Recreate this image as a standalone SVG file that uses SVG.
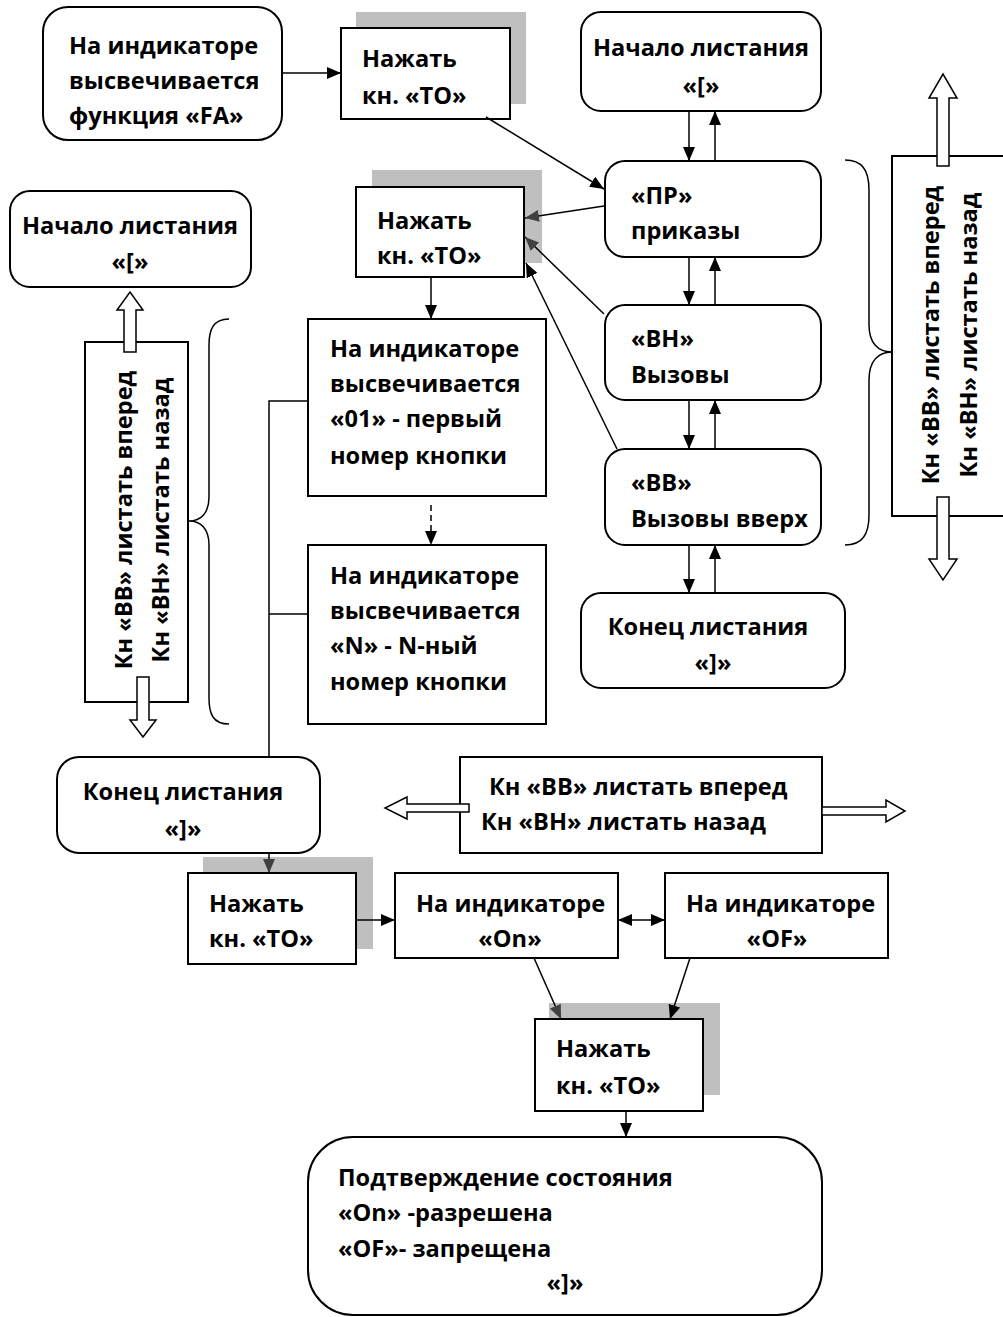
<svg xmlns="http://www.w3.org/2000/svg" width="1003" height="1317" viewBox="0 0 1003 1317">
<style>
text{font-family:"Open Sans","DejaVu Sans",sans-serif;font-weight:700;font-size:23.6px;fill:#000}
.box{fill:#fff;stroke:#000;stroke-width:2}
.sh{fill:#bfbfbf}
.c{fill:none;stroke:#000;stroke-width:1.5}
.ha{fill:#fff;stroke:#000;stroke-width:1.5}
.m{text-anchor:middle}
</style>
<defs>
<marker id="a" viewBox="0 0 14 12" refX="14" refY="6" markerWidth="14" markerHeight="12" markerUnits="userSpaceOnUse" orient="auto-start-reverse"><path d="M0,0 L14,6 L0,12 Z" fill="#000"/></marker>
<marker id="g" viewBox="0 0 14 12" refX="14" refY="6" markerWidth="14" markerHeight="12" markerUnits="userSpaceOnUse" orient="auto"><path d="M0,0 L14,6 L0,12 Z" fill="#404040"/></marker>
</defs>

<g id="n1"><rect class="box" x="43" y="7" width="239" height="133" rx="25"/>
<text x="69" y="54">На индикаторе</text><text x="69" y="89">высвечивается</text><text x="69" y="124">функция «FA»</text></g>

<g id="n2"><rect class="sh" x="356" y="12" width="170" height="92"/><rect class="box" x="341" y="28" width="169" height="91"/>
<text x="362" y="67">Нажать</text><text x="362" y="104">кн. «ТО»</text></g>

<g id="n3"><rect class="box" x="10" y="191" width="241" height="96" rx="20"/>
<text class="m" x="130" y="234">Начало листания</text><text class="m" x="130" y="270">«[»</text></g>

<g id="n4"><rect class="sh" x="372" y="170" width="170" height="93"/><rect class="box" x="356" y="187" width="168" height="90"/>
<text x="377" y="229">Нажать</text><text x="377" y="264">кн. «ТО»</text></g>

<g id="n14"><rect class="box" x="581" y="12" width="240" height="99" rx="20"/>
<text class="m" x="701" y="56">Начало листания</text><text class="m" x="701" y="94">«[»</text></g>

<g id="n15"><rect class="box" x="605" y="161" width="216" height="96" rx="20"/>
<text x="631" y="204">«ПР»</text><text x="631" y="239">приказы</text></g>

<g id="n16"><rect class="box" x="605" y="305" width="216" height="95" rx="20"/>
<text x="631" y="347">«ВН»</text><text x="631" y="383">Вызовы</text></g>

<g id="n17"><rect class="box" x="605" y="449" width="216" height="96" rx="20"/>
<text x="631" y="491">«ВВ»</text><text x="631" y="527">Вызовы вверх</text></g>

<g id="n18"><rect class="box" x="581" y="593" width="264" height="95" rx="20"/>
<text class="m" x="708" y="635">Конец листания</text><text class="m" x="713" y="671">«]»</text></g>

<g id="n19"><path class="c" d="M845,160 C862,160 869,170 869,190 L869,325 C869,343 878,352 892,352 C878,352 869,361 869,380 L869,515 C869,535 862,545 845,545"/>
<rect class="box" x="892" y="156" width="130" height="360"/>
<text class="m" transform="translate(939,335) rotate(-90)">Кн «ВВ» листать вперед</text>
<text class="m" transform="translate(977,335) rotate(-90)">Кн «ВН» листать назад</text>
<polygon class="ha" points="937,166 937,98 929,98 943,74 957,98 949,98 949,166"/>
<polygon class="ha" points="937,497 937,559 929,559 943,580 957,559 949,559 949,497"/></g>

<g id="n20"><path class="c" d="M229,319 C213,319 209,330 209,345 L209,497 C209,513 201,521 189,521 C201,521 209,529 209,545 L209,698 C209,714 213,724 229,724"/>
<rect class="box" x="85" y="342" width="103" height="360"/>
<text class="m" transform="translate(132,520) rotate(-90)">Кн «ВВ» листать вперед</text>
<text class="m" transform="translate(169,520) rotate(-90)">Кн «ВН» листать назад</text>
<polygon class="ha" points="124,352 124,310 117,310 130,292 143,310 136,310 136,352"/>
<polygon class="ha" points="137,677 137,720 130,720 143,737 156,720 149,720 149,677"/></g>

<g id="n5"><rect class="box" x="308" y="319" width="238" height="177"/>
<text x="330" y="357">На индикаторе</text><text x="330" y="392">высвечивается</text><text x="330" y="427">«01» - первый</text><text x="330" y="464">номер кнопки</text></g>

<g id="n6"><rect class="box" x="308" y="545" width="238" height="179"/>
<text x="330" y="584">На индикаторе</text><text x="330" y="619">высвечивается</text><text x="330" y="654">«N» - N-ный</text><text x="330" y="690">номер кнопки</text></g>

<g id="n7"><rect class="box" x="57" y="757" width="263" height="96" rx="22"/>
<text class="m" x="183" y="800">Конец листания</text><text class="m" x="183" y="837">«]»</text></g>

<g id="n11"><rect class="box" x="460" y="757" width="362" height="96"/>
<text x="489" y="795">Кн «ВВ» листать вперед</text><text x="481" y="830">Кн «ВН» листать назад</text>
<polygon class="ha" points="469,804 407,804 407,797 385,808 407,819 407,812 469,812"/>
<polygon class="ha" points="822,807 886,807 886,800 905,811 886,822 886,815 822,815"/></g>

<g id="n8"><rect class="sh" x="203" y="857" width="170" height="92"/><rect class="box" x="188" y="873" width="168" height="91"/>
<text x="209" y="912">Нажать</text><text x="209" y="947">кн. «ТО»</text></g>

<g id="n9"><rect class="box" x="395" y="873" width="223" height="85"/>
<text x="416" y="912">На индикаторе</text><text class="m" x="510" y="947">«On»</text></g>

<g id="n10"><rect class="box" x="665" y="873" width="223" height="85"/>
<text x="686" y="912">На индикаторе</text><text class="m" x="777" y="947">«OF»</text></g>

<g id="n12"><rect class="sh" x="549" y="1003" width="171" height="92"/><rect class="box" x="535" y="1019" width="168" height="92"/>
<text x="556" y="1057">Нажать</text><text x="556" y="1094">кн. «ТО»</text></g>

<g id="n13"><rect class="box" x="308" y="1137" width="514" height="178" rx="45"/>
<text x="338" y="1186">Подтверждение состояния</text><text x="338" y="1221">«On» -разрешена</text><text x="338" y="1257">«OF»- запрещена</text><text class="m" x="565" y="1291">«]»</text></g>

<g id="connectors">
<line class="c" x1="282" y1="73" x2="341" y2="73" marker-end="url(#a)"/>
<line class="c" x1="486" y1="117" x2="604" y2="189" marker-end="url(#a)"/>
<line class="c" x1="604" y1="206" x2="525" y2="218" marker-end="url(#g)"/>
<line class="c" x1="604" y1="314" x2="525" y2="237" marker-end="url(#g)"/>
<line class="c" x1="617" y1="449" x2="526" y2="263" marker-end="url(#a)"/>
<line class="c" x1="689" y1="111" x2="689" y2="161" marker-end="url(#a)"/>
<line class="c" x1="715" y1="161" x2="715" y2="111" marker-end="url(#a)"/>
<line class="c" x1="689" y1="257" x2="689" y2="305" marker-end="url(#a)"/>
<line class="c" x1="715" y1="305" x2="715" y2="257" marker-end="url(#a)"/>
<line class="c" x1="689" y1="400" x2="689" y2="449" marker-end="url(#a)"/>
<line class="c" x1="715" y1="449" x2="715" y2="400" marker-end="url(#a)"/>
<line class="c" x1="689" y1="545" x2="689" y2="593" marker-end="url(#a)"/>
<line class="c" x1="715" y1="593" x2="715" y2="545" marker-end="url(#a)"/>
<line class="c" x1="431" y1="277" x2="431" y2="319" marker-end="url(#a)"/>
<line class="c" x1="431" y1="505" x2="431" y2="545" stroke-dasharray="6,4" marker-end="url(#a)"/>
<path class="c" d="M308,401 H269 V757 M269,614 H308"/>
<line class="c" x1="269" y1="853" x2="269" y2="873" marker-end="url(#g)"/>
<line class="c" x1="356" y1="920" x2="395" y2="920" marker-end="url(#a)"/>
<line class="c" x1="618" y1="920" x2="665" y2="920" marker-start="url(#a)" marker-end="url(#a)"/>
<line class="c" x1="534" y1="958" x2="561" y2="1019" marker-end="url(#g)"/>
<line class="c" x1="690" y1="958" x2="670" y2="1019" marker-end="url(#a)"/>
<line class="c" x1="626" y1="1111" x2="626" y2="1137" marker-end="url(#a)"/>
</g>
</svg>
